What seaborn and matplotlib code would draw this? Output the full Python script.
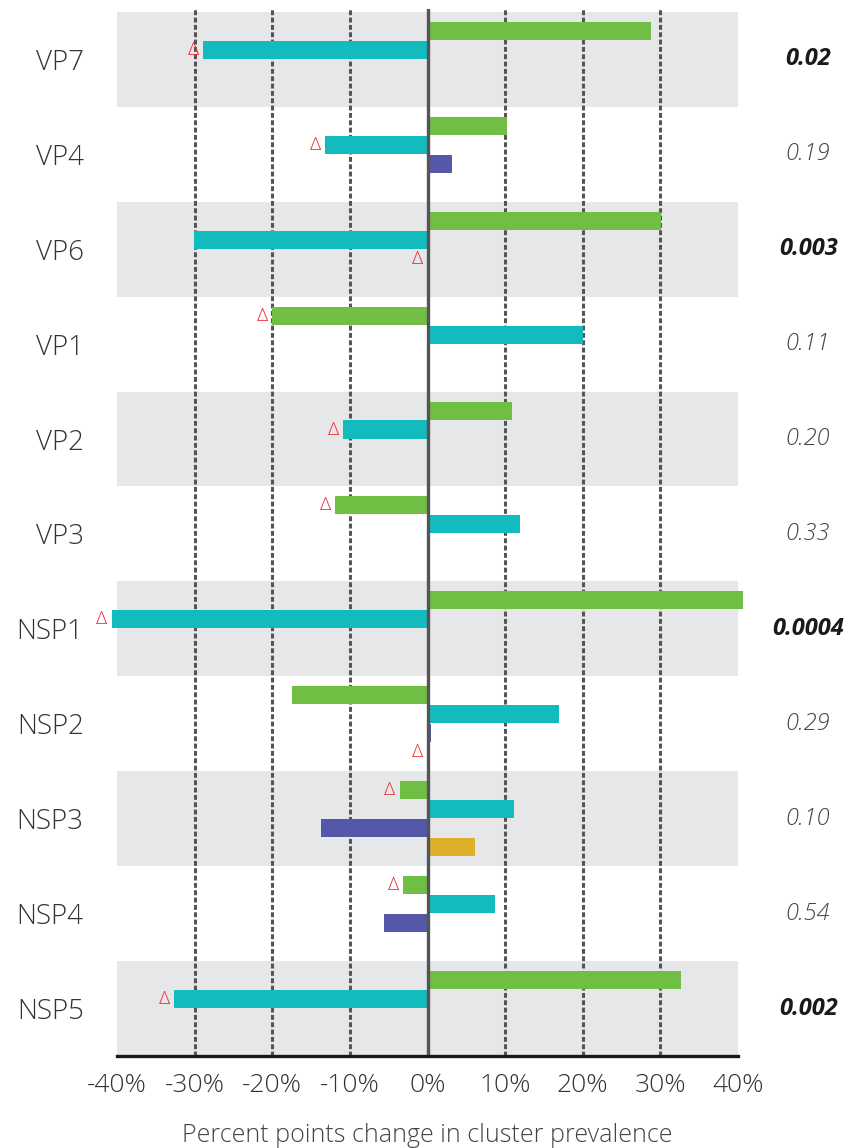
import numpy as np
import pandas as pd
import matplotlib
matplotlib.use("Agg")
import matplotlib.pyplot as plt
import seaborn as sns

# data
rows = ["VP7", "VP4", "VP6", "VP1", "VP2", "VP3", "NSP1", "NSP2", "NSP3", "NSP4", "NSP5"]
clusters = ["Cluster 1", "Cluster 2", "Cluster 3", "Cluster 4"]
green = [28.8, 10.2, 30.1, -20.0, 10.9, -11.9, 40.7, -17.5, -3.6, -3.1, 32.6]
cyan = [-28.9, -13.2, -30.1, 20.0, -10.9, 11.9, -40.7, 17.0, 11.1, 8.7, -32.6]
purple = [np.nan, 3.1, 0.0, np.nan, np.nan, np.nan, np.nan, 0.5, -13.7, -5.6, np.nan]
yellow = [np.nan, np.nan, np.nan, np.nan, np.nan, np.nan, np.nan, 0.0, 6.1, np.nan, np.nan]
# cluster flagged with a triangle in each row (index into clusters)
flagged = [1, 1, 2, 0, 1, 0, 1, 3, 0, 0, 1]
pvals = ["0.02", "0.19", "0.003", "0.11", "0.20", "0.33", "0.0004", "0.29", "0.10", "0.54", "0.002"]
xticks = [-40, -30, -20, -10, 0, 10, 20, 30, 40]

colors = ["#70be44", "#13bbbe", "#5558a8", "#ddb02a"]

# long table for seaborn
records = []
for i, r in enumerate(rows):
    for c, vals in zip(clusters, [green, cyan, purple, yellow]):
        if not np.isnan(vals[i]):
            records.append({"row": r, "cluster": c, "change": vals[i]})
df = pd.DataFrame(records)

sns.set_style("white")
plt.rcParams["font.family"] = ["Open Sans", "DejaVu Sans"]

fig = plt.figure(figsize=(8.48, 11.48), dpi=100)
ax = fig.add_axes([117 / 848, 1 - 1056 / 1148, 621 / 848, (1056 - 9) / 1148])

sns.barplot(data=df, y="row", x="change", hue="cluster", order=rows,
            hue_order=clusters, palette=colors, orient="h", width=0.8,
            gap=0.05, saturation=1, legend=False, ax=ax)

bars = [p for cont in ax.containers for p in cont.patches]
for p in bars:
    p.set_zorder(3)
    p.set_linewidth(0)
    p.set_clip_on(False)

# alternating grey bands
for i in range(0, len(rows), 2):
    ax.axhspan(i - 0.5, i + 0.5, color="#e6e7e8", zorder=0, lw=0)

# dotted gridlines and zero line
for t in xticks[1:-1]:
    if t == 0:
        ax.axvline(0, color="#555555", lw=2.4, zorder=4)
    else:
        ax.axvline(t, color="#555555", lw=2.2, dashes=(1.6, 0.8), zorder=1)

# triangles next to the flagged cluster bar
for h, cont in enumerate(ax.containers):
    for p in cont.patches:
        yc = p.get_y() + p.get_height() / 2
        ri = int(round(yc))
        if flagged[ri] == h:
            xend = min(p.get_x(), p.get_x() + p.get_width())
            ax.annotate("Δ", xy=(xend, yc), xytext=(-3, 0), textcoords="offset points",
                        ha="right", va="center", color="#ee2a32", fontsize=14,
                        fontweight="light", zorder=5, annotation_clip=False)

# p-values on the right
for i, pv in enumerate(pvals):
    sig = float(pv) < 0.05
    ax.text(1.113, i, pv, transform=ax.get_yaxis_transform(), ha="center", va="center",
            fontsize=17, fontstyle="italic",
            fontweight="bold" if sig else "light",
            color="#1a1a1a" if sig else "#444444")

ax.set_xlim(-40, 40)
ax.set_ylim(len(rows) - 0.5, -0.53)
ax.set_xticks(xticks)
ax.set_xticklabels([f"{t}%" for t in xticks])
ax.tick_params(axis="x", length=0, pad=12, labelsize=19, labelcolor="#333333")
ax.tick_params(axis="y", length=0, pad=24, labelsize=20, labelcolor="#333333")
for lab in ax.get_xticklabels() + ax.get_yticklabels():
    lab.set_fontweight("light")

ax.set_ylabel("")
ax.set_xlabel("Percent points change in cluster prevalence", fontsize=18,
              color="#444444", labelpad=18, fontweight="light")

for s in ["top", "left", "right"]:
    ax.spines[s].set_visible(False)
ax.spines["bottom"].set_color("#1a1a1a")
ax.spines["bottom"].set_linewidth(2.4)
ax.spines["bottom"].set_zorder(5)

fig.savefig("out.png", dpi=100)
